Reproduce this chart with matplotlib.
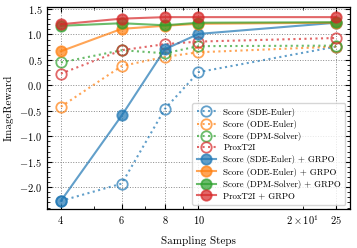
import numpy as np
import matplotlib
matplotlib.use("Agg")
import matplotlib.pyplot as plt
from matplotlib.ticker import ScalarFormatter, AutoMinorLocator

plt.rcParams.update({
    "font.family": "serif",
    "font.serif": ["cmr10", "DejaVu Serif"],
    "mathtext.fontset": "cm",
    "axes.formatter.use_mathtext": True,
    "font.size": 7.5,
    "xtick.direction": "in",
    "ytick.direction": "in",
    "xtick.top": True,
    "ytick.right": True,
    "xtick.minor.visible": True,
    "ytick.minor.visible": True,
    "axes.unicode_minus": True,
})

# ── data ────────────────────────────────────────────────────────────────────
steps = [4, 6, 8, 10, 25]

score_sde = [-2.27, -1.93, -0.46, 0.26, 0.76]
score_ode = [-0.42, 0.38, 0.56, 0.65, 0.76]
score_dpm = [0.45, 0.69, 0.63, 0.77, 0.78]
prox      = [0.23, 0.69, 0.81, 0.86, 0.93]

score_sde_grpo = [-2.27, -0.59, 0.71, 1.01, 1.23]
score_ode_grpo = [0.67, 1.11, 1.17, 1.21, 1.23]
score_dpm_grpo = [1.17, 1.22, 1.18, 1.23, 1.24]
prox_grpo      = [1.20, 1.31, 1.34, 1.34, 1.34]

labels_base = ["Score (SDE-Euler)", "Score (ODE-Euler)", "Score (DPM-Solver)", "ProxT2I"]
labels_grpo = ["Score (SDE-Euler) + GRPO", "Score (ODE-Euler) + GRPO",
               "Score (DPM-Solver) + GRPO", "ProxT2I + GRPO"]
colors = ["#1f77b4", "#ff7f0e", "#2ca02c", "#d62728"]

# ── plot ────────────────────────────────────────────────────────────────────
fig = plt.figure(figsize=(3.57, 2.48), dpi=100)
ax = fig.add_axes([0.132, 0.157, 0.848, 0.815])

for ys, lab, c in zip([score_sde, score_ode, score_dpm, prox], labels_base, colors):
    ax.plot(steps, ys, ":", color=c, lw=1.5, marker="o", ms=7.5,
            mfc="none", mew=1.3, alpha=0.7, label=lab)

for ys, lab, c in zip([score_sde_grpo, score_ode_grpo, score_dpm_grpo, prox_grpo],
                      labels_grpo, colors):
    ax.plot(steps, ys, "-", color=c, lw=1.5, marker="o", ms=7.5,
            mew=1.3, alpha=0.7, label=lab)

ax.set_xscale("log")
ax.set_xticks(steps)
ax.xaxis.set_major_formatter(ScalarFormatter())
ax.yaxis.set_minor_locator(AutoMinorLocator(5))
ax.set_ylim(-2.43, 1.54)

ax.grid(True, which="major", ls=":", lw=0.7, color="#888888")
for s in ax.spines.values():
    s.set_linewidth(0.9)

ax.set_xlabel("Sampling Steps", fontsize=8, labelpad=6)
ax.set_ylabel("ImageReward", fontsize=8)

ax.legend(loc="lower right", fontsize=6.4, framealpha=0.8, handlelength=2.2,
          borderpad=0.5, labelspacing=0.35)

plt.savefig("out.png", dpi=100)
